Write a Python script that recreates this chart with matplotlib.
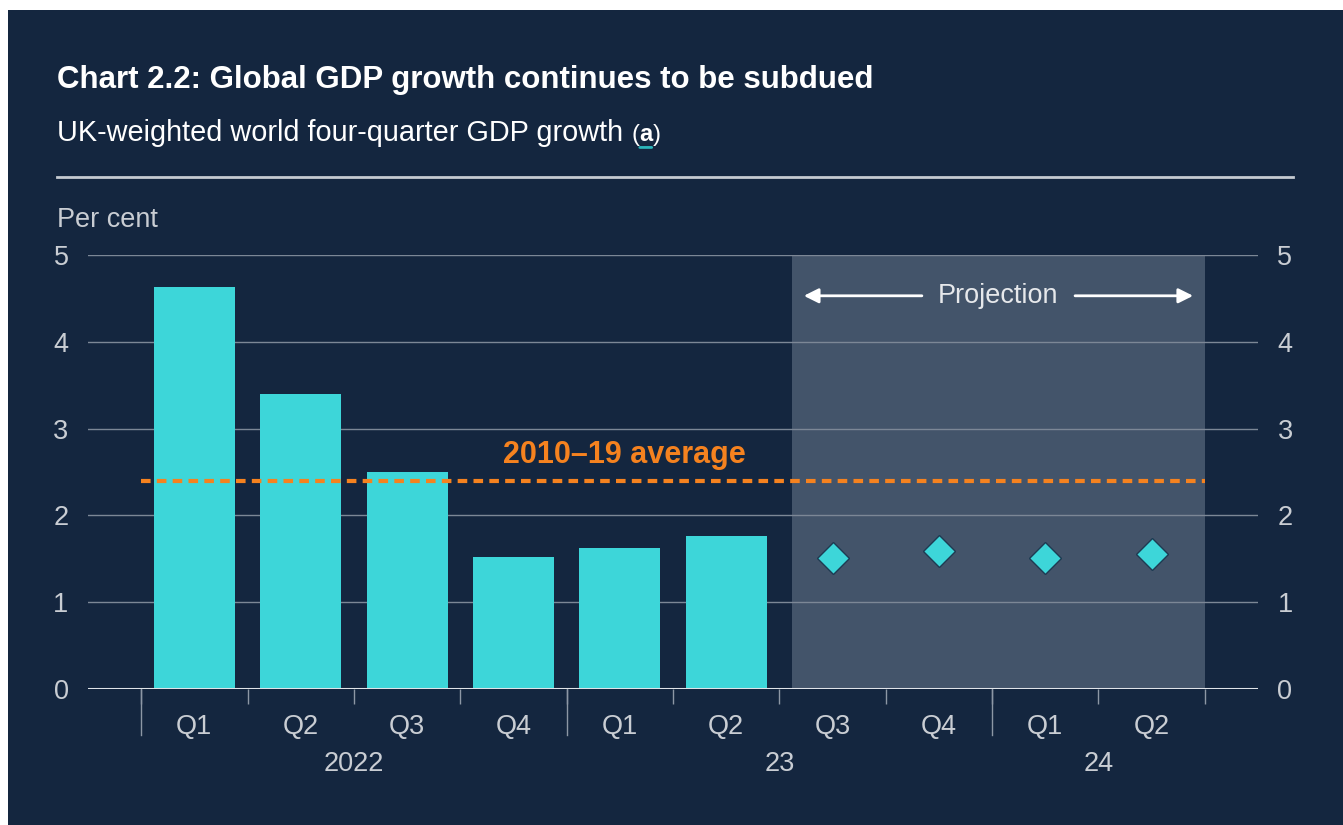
import matplotlib
matplotlib.use('Agg')
import matplotlib.pyplot as plt
from matplotlib.patches import Rectangle
from matplotlib.lines import Line2D
import numpy as np

W, H = 1343, 825

# data
quarters = ['Q1', 'Q2', 'Q3', 'Q4', 'Q1', 'Q2', 'Q3', 'Q4', 'Q1', 'Q2']
years = ['2022', '23', '24']
year_counts = [4, 4, 2]
outturn = [4.63, 3.40, 2.50, 1.52, 1.62, 1.76]
projection = [1.51, 1.59, 1.51, 1.56]
avg_2010_19 = 2.40
y_ticks = [0, 1, 2, 3, 4, 5]

BG = '#14263f'
SHADE = '#43546a'
TEAL = '#3dd6d9'
ORANGE = '#f5821f'
GRID = '#7c8796'
TICK = '#c9cdd3'
FS = 19.5

plt.rcParams['font.family'] = ['Liberation Sans', 'DejaVu Sans']

fig = plt.figure(figsize=(W / 100, H / 100), dpi=100)
fig.patch.set_facecolor('white')
fig.add_artist(Rectangle((8 / W, 0), 1, (H - 10) / H, transform=fig.transFigure,
                         facecolor=BG, edgecolor='none', zorder=-10))

ax = fig.add_axes([88 / W, (H - 689) / H, (1258 - 88) / W, (689 - 255) / H])
ax.set_facecolor('none')
for s in ax.spines.values():
    s.set_visible(False)

# titles
fig.text(57 / W, 1 - 80 / H, 'Chart 2.2: Global GDP growth continues to be subdued',
         fontsize=22.5, weight='bold', color='white', va='center')
sub = fig.text(57 / W, 1 - 133 / H, 'UK-weighted world four-quarter GDP growth ',
               fontsize=20.8, color='white', va='center')
a1 = ax.annotate('(', xy=(1, 0.05), xycoords=sub, va='bottom', ha='left',
                 fontsize=17, color='white', annotation_clip=False)
a2 = ax.annotate('a', xy=(1, 0), xycoords=a1, va='bottom', ha='left',
                 fontsize=17, color='white', weight='bold', annotation_clip=False)
a3 = ax.annotate(')', xy=(1, 0), xycoords=a2, va='bottom', ha='left',
                 fontsize=17, color='white', annotation_clip=False)
ax.annotate('', xy=(0.95, -0.08), xycoords=a2, xytext=(0.05, -0.08), textcoords=a2,
            annotation_clip=False,
            arrowprops=dict(arrowstyle='-', color='#2bb6bb', lw=2, shrinkA=0, shrinkB=0))
fig.add_artist(Line2D([57 / W, 1293 / W], [1 - 177 / H] * 2, color='#c5cad1', lw=2))
fig.text(57 / W, 1 - 220 / H, 'Per cent', fontsize=FS, color=TICK, va='center')

x_all = np.arange(len(quarters))
x_out = x_all[:len(outturn)]
x_proj = x_all[len(outturn):]

ax.set_xlim(-1, len(quarters))
ax.set_ylim(0, 5)

# projection shading
shade_lo, shade_hi = x_proj[0] - 0.38, x_proj[-1] + 0.5
ax.axvspan(shade_lo, shade_hi, color=SHADE, zorder=0, lw=0)

for y in y_ticks[1:]:
    ax.axhline(y, color=GRID, lw=1, zorder=1)
ax.axhline(0, color='#dfe3e8', lw=2.2, zorder=6)

ax.bar(x_out, outturn, width=0.76, color=TEAL, zorder=3)
ax.plot(x_proj, projection, 'D', ms=16, mfc=TEAL, mec='#1e3b52', mew=1, zorder=5)

ax.plot([x_all[0] - 0.5, x_all[-1] + 0.5], [avg_2010_19] * 2, color=ORANGE,
        lw=3, dashes=(2.3, 1.5), zorder=4)
ax.text(4.04, 2.70, '2010\u201319 average', color=ORANGE, fontsize=22, weight='bold',
        ha='center', va='center', zorder=5)

# projection label with arrows
mid = (shade_lo + shade_hi) / 2
ax.text(mid, 4.53, 'Projection', color='#e6e8eb', fontsize=FS, ha='center', va='center')
arrow = dict(arrowstyle='-|>', color='white', lw=2, mutation_scale=22, shrinkA=0, shrinkB=0)
ax.annotate('', xy=(shade_lo + 0.11, 4.53), xytext=(mid - 0.72, 4.53), arrowprops=arrow)
ax.annotate('', xy=(shade_hi - 0.11, 4.53), xytext=(mid + 0.72, 4.53), arrowprops=arrow)

# y axis
ax.set_yticks(y_ticks)
ax.tick_params(axis='y', length=0, labelsize=FS, labelcolor=TICK, pad=14,
               labelright=True)

# x axis: quarters, separators, years
ax.set_xticks(x_all, quarters)
ax.set_xticks(np.arange(-0.5, len(quarters), 1), minor=True)
ax.tick_params(axis='x', which='major', length=0, labelsize=FS, labelcolor=TICK, pad=18)
ax.tick_params(axis='x', which='minor', length=11, width=1, color='#8d97a5')

trans = ax.get_xaxis_transform()
start = -0.5
for yr, n in zip(years, year_counts):
    ax.plot([start, start], [0, -0.105], transform=trans, color='#8d97a5', lw=1,
            clip_on=False)
    ax.text(start + n / 2, -0.172, yr, transform=trans, ha='center', va='center',
            fontsize=FS, color=TICK)
    start += n

fig.savefig('out.png', dpi=100, facecolor=fig.get_facecolor())
